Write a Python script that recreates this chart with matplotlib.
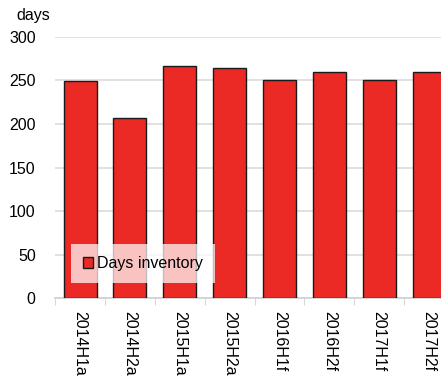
import matplotlib
matplotlib.use('Agg')
import matplotlib.pyplot as plt
import numpy as np

plt.rcParams['font.family'] = ['Liberation Sans', 'DejaVu Sans']

periods = ['2014H1a', '2014H2a', '2015H1a', '2015H2a', '2016H1f', '2016H2f', '2017H1f', '2017H2f']
days_inventory = [249, 207, 266, 264, 250, 260, 250, 260]

fig = plt.figure(figsize=(4.41, 3.76), dpi=100)
ax = fig.add_axes([0.125, 0.207, 0.875, 0.695])

x = np.arange(len(periods))
ax.bar(x, days_inventory, width=0.66, color='#ec2a25', edgecolor='#1a1a1a',
       linewidth=1.0, label='Days inventory', zorder=3)

ax.set_ylim(0, 300)
ax.set_yticks(range(0, 301, 50))
ax.set_xticks(x)
ax.set_xticklabels(periods, rotation=270, fontsize=11.5)
ax.set_xticks(np.arange(-0.5, 8, 1), minor=True)
ax.set_xlim(-0.5, 7.24)  # after ticks, so the last bar is cut off
ax.tick_params(axis='x', which='major', length=0, pad=9)
ax.tick_params(axis='x', which='minor', length=5, color='#d0d0d0')
ax.tick_params(axis='y', length=0, pad=14, labelsize=11.5)
ax.grid(axis='y', color='#dcdcdc', linewidth=1.2, zorder=0)

for s in ['top', 'right', 'left']:
    ax.spines[s].set_visible(False)
ax.spines['bottom'].set_color('#d0d0d0')
ax.spines['bottom'].set_linewidth(1.2)

fig.text(0.038, 0.958, 'days', fontsize=11.5, va='center')

leg = ax.legend(loc='lower left', bbox_to_anchor=(0.041, 0.057), fontsize=11.5,
                frameon=True, fancybox=False, framealpha=0.72, edgecolor='none',
                handlelength=0.65, handleheight=0.65, handletextpad=0.25,
                borderpad=0.75, borderaxespad=0)
leg.set_zorder(5)

fig.savefig('out.png', dpi=100)
